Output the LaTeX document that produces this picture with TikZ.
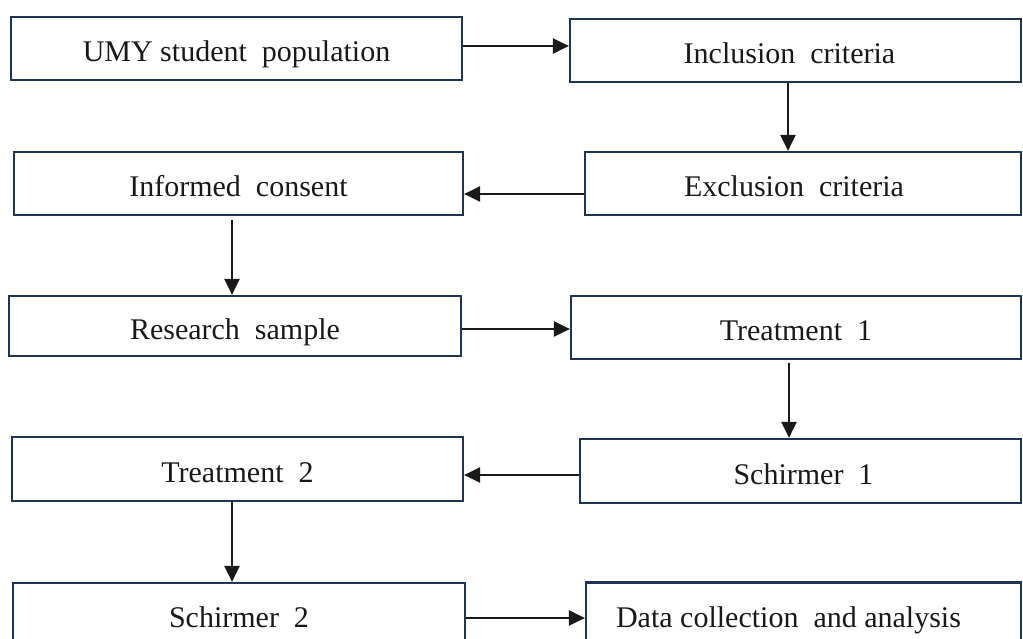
\documentclass[tikz,border=0pt]{standalone}
\usepackage{fontspec}
\setmainfont{Liberation Serif}
\usetikzlibrary{arrows.meta}
\definecolor{boxblue}{HTML}{1F3556}
\tikzset{
  flowbox/.style={draw=boxblue, line width=2.2pt, fill=white, inner sep=0pt,
    font=\fontsize{30}{33}\selectfont, text=black!90, text height=26pt, text depth=0pt},
  flowarrow/.style={draw=black!90, line width=2.4pt, -{Triangle[length=16pt,width=15pt]}}
}
\begin{document}
\begin{tikzpicture}[x=1pt,y=-1pt]
\useasboundingbox[fill=white] (0,0) rectangle (1023,639);
% left column
\node[flowbox, minimum width=451pt, minimum height=63pt] (umy) at (236.5,48.5) {UMY student\ \ population};
\node[flowbox, minimum width=449pt, minimum height=63pt] (cons) at (238.5,183.5) {Informed\ \ consent};
\node[flowbox, minimum width=452pt, minimum height=60pt] (samp) at (235,326) {Research\ \ sample};
\node[flowbox, minimum width=451pt, minimum height=64pt] (tr2) at (237.5,469) {Treatment\ \ 2};
\node[flowbox, minimum width=452pt, minimum height=63pt] (sch2) at (239,614.5) {Schirmer\ \ 2};
% right column
\node[flowbox, minimum width=451pt, minimum height=63pt] (incl) at (795.5,50.5) {\hspace*{-12pt}Inclusion\ \ criteria};
\node[flowbox, minimum width=436pt, minimum height=63pt] (excl) at (803,183.5) {\hspace*{-18pt}Exclusion\ \ criteria};
\node[flowbox, minimum width=450pt, minimum height=63pt] (tr1) at (796,327.5) {Treatment\ \ 1};
\node[flowbox, minimum width=441pt, minimum height=64pt] (sch1) at (800.5,471) {\hspace*{6pt}Schirmer\ \ 1};
\node[flowbox, minimum width=435pt, minimum height=63pt] (data) at (803.5,614) {\hspace*{-30pt}Data collection\ \ and analysis};
% connectors
\draw[flowarrow] ([yshift=2.5pt]umy.east) -- ([yshift=2.5pt]umy.east -| incl.west);
\draw[flowarrow] ([xshift=-7.5pt]incl.south) -- ([xshift=-7.5pt]incl.south |- excl.north);
\draw[flowarrow] ([yshift=-10.5pt]excl.west) -- ([yshift=-10.5pt]excl.west -| cons.east);
\draw[flowarrow] ([xshift=-6.5pt,yshift=-4pt]cons.south) -- ([xshift=-6.5pt]cons.south |- samp.north);
\draw[flowarrow] ([yshift=-3pt]samp.east) -- ([yshift=-3pt]samp.east -| tr1.west);
\draw[flowarrow] ([xshift=-7pt,yshift=-3pt]tr1.south) -- ([xshift=-7pt]tr1.south |- sch1.north);
\draw[flowarrow] ([yshift=-4pt]sch1.west) -- ([yshift=-4pt]sch1.west -| tr2.east);
\draw[flowarrow] ([xshift=-5.5pt]tr2.south) -- ([xshift=-5.5pt]tr2.south |- sch2.north);
\draw[flowarrow] ([yshift=-3.5pt]sch2.east) -- ([yshift=-3.5pt]sch2.east -| data.west);
\end{tikzpicture}
\end{document}
